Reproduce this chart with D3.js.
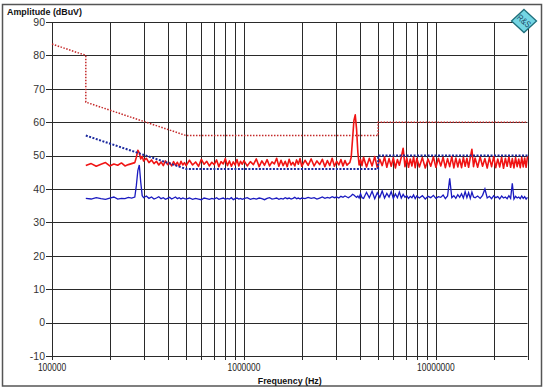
<!DOCTYPE html>
<html>
<head>
<meta charset="utf-8">
<script src="https://cdn.jsdelivr.net/npm/d3@7"></script>
<style>
  body { margin: 0; background: #fff; }
  svg { display: block; font-family: Arial, "Liberation Sans", sans-serif; }
</style>
</head>
<body>
<div id="chart"></div>
<script>
// Data (frequencies in MHz, amplitudes in dBuV)
// ==============================
var yTicks = [-10, 0, 10, 20, 30, 40, 50, 60, 70, 80, 90];
var xTickLabels = [100000, 1000000, 10000000];

var limitQpFreq = [0.1, 0.15, 0.15, 0.5, 5, 5, 30];
var limitQpLevel = [83.4, 80, 66, 56, 56, 60, 60];

var limitAvgFreq = [0.15, 0.5, 5, 5, 30];
var limitAvgLevel = [56, 46, 46, 50, 50];

var traceFreq = [
  0.15, 0.16, 0.17, 0.18, 0.19, 0.20, 0.21, 0.22, 0.23, 0.24, 0.25, 0.26, 0.27,
  0.275, 0.28, 0.285, 0.29, 0.295, 0.30,
  0.31, 0.32, 0.33, 0.34, 0.35, 0.36, 0.37, 0.38, 0.39, 0.40, 0.41, 0.42, 0.43, 0.44, 0.45, 0.46, 0.47, 0.48, 0.49,
  0.50, 0.52, 0.54, 0.56, 0.58, 0.60, 0.62, 0.64, 0.66, 0.68, 0.70, 0.72, 0.74, 0.76, 0.78, 0.80, 0.82, 0.84, 0.86, 0.88, 0.90, 0.92, 0.94, 0.96, 0.98,
  1.00, 1.04, 1.08, 1.12, 1.16, 1.20, 1.24, 1.28, 1.32, 1.36, 1.40, 1.44, 1.48, 1.52, 1.56, 1.60, 1.64, 1.68, 1.72, 1.76, 1.80, 1.84, 1.88, 1.92, 1.96,
  2.00, 2.08, 2.16, 2.24, 2.32, 2.40, 2.48, 2.56, 2.64, 2.72, 2.80, 2.88, 2.96, 3.04, 3.12, 3.20, 3.28, 3.36, 3.44,
  3.50, 3.56, 3.62, 3.68, 3.74, 3.80, 3.86, 3.92, 3.98, 4.05, 4.12,
  4.20, 4.35, 4.50, 4.65, 4.80, 4.95, 5.10, 5.25, 5.40, 5.55, 5.70, 5.85, 6.00, 6.15, 6.30, 6.45, 6.60, 6.75, 6.90, 7.05, 7.20, 7.35, 7.50, 7.65, 7.80, 7.95,
  8.2, 8.5, 8.8, 9.1, 9.4, 9.7, 10.0, 10.3, 10.6, 10.9, 11.2, 11.5, 11.8, 12.1, 12.4, 12.7, 13.0, 13.3, 13.6, 13.9, 14.2, 14.5, 14.8, 15.1, 15.4, 15.7,
  16.0, 16.5, 17.0, 17.5, 18.0, 18.5, 19.0, 19.5, 20.0, 20.5, 21.0, 21.5, 22.0, 22.5, 23.0, 23.5, 24.0, 24.5, 25.0, 25.5, 26.0, 26.5, 27.0, 27.5, 28.0, 28.5, 29.0, 29.5, 30.0
];

var peakLevel = [
  47.0, 47.6, 46.8, 47.4, 47.9, 46.9, 47.5, 47.1, 47.8, 46.9, 47.3, 47.6, 47.9,
  49.5, 51.6, 50.8, 49.0, 49.8, 48.4,
  49.2, 47.9, 48.7, 47.6, 48.3, 47.2, 48.1, 47.0, 48.4, 47.3, 47.9, 46.9, 48.2, 47.1, 48.0, 46.8, 48.3, 47.2, 47.9,
  47.0, 48.6, 47.2, 48.1, 46.8, 48.9, 47.4, 48.3, 46.9, 48.0, 47.3, 48.7, 46.7, 48.2, 47.5, 49.1, 47.0, 48.4, 46.8, 48.1, 47.2, 48.8, 46.9, 48.3, 47.4,
  48.5, 46.9, 48.2, 47.3, 49.0, 46.7, 48.4, 47.1, 48.8, 46.9, 48.1, 47.5, 49.2, 46.8, 48.6, 47.0, 48.3, 46.7, 48.9, 47.2, 48.0, 46.9, 48.7, 47.4, 49.1,
  46.8, 48.6, 47.1, 49.0, 46.9, 48.4, 47.3, 48.9, 46.7, 48.5, 47.0, 49.2, 46.8, 48.3, 47.2, 48.8, 46.9, 48.5, 47.1,
  47.6, 47.9, 49.5, 55.0, 60.5, 62.2, 58.0, 51.0, 47.2, 48.8, 47.0,
  49.5, 46.6, 49.2, 46.9, 49.7, 46.4, 48.9, 47.0, 49.6, 46.5, 49.1, 46.8, 49.4, 46.3, 48.8, 47.1, 49.5, 52.2, 46.7, 49.3, 46.5, 49.0, 46.9, 49.6, 46.4, 49.2,
  46.6, 49.4, 46.3, 49.0, 46.8, 49.6, 46.5, 49.2, 46.9, 49.5, 46.4, 49.1, 46.7, 49.7, 46.3, 49.3, 46.6, 49.0, 46.4, 49.5, 46.8, 49.2, 46.5, 49.4, 51.9, 46.7,
  49.3, 46.5, 49.6, 46.8, 49.1, 46.3, 49.4, 46.7, 49.7, 46.4, 49.0, 46.6, 49.5, 46.2, 49.2, 46.8, 49.6, 46.5, 49.1, 46.3, 49.4, 46.7, 49.0, 46.4, 49.5, 46.6, 49.3, 46.5, 49.8
];

var avgLevel = [
  37.2, 37.0, 37.4, 37.1, 36.9, 37.3, 37.6, 37.0, 37.2, 37.1, 37.5, 37.3, 37.6,
  41.0, 45.5, 47.2, 42.0, 38.0, 37.4,
  37.9, 37.2, 37.6, 37.0, 37.3, 37.7, 37.1, 37.4, 36.9, 37.2, 37.5, 37.0, 37.3, 37.6, 37.1, 37.4, 37.0, 37.3, 37.1,
  37.0, 37.3, 36.9, 37.2, 37.0, 36.8, 37.3, 37.1, 36.9, 37.2, 37.0, 37.4, 36.9, 37.1, 37.3, 36.9, 37.2, 37.0, 37.4, 36.8, 37.1, 37.3, 37.0, 37.2, 36.9,
  37.1, 37.4, 36.9, 37.2, 37.0, 37.3, 37.1, 36.8, 37.2, 37.4, 37.0, 37.1, 37.3, 36.9, 37.2, 37.0, 37.4, 37.1, 37.3, 37.0, 37.2, 37.5, 37.1, 37.3, 37.0,
  37.3, 37.1, 37.5, 37.2, 37.4, 37.0, 37.3, 37.6, 37.2, 37.5, 37.3, 37.7, 37.4, 37.6, 37.3, 37.8, 37.5, 37.9, 37.6,
  37.4, 37.7, 38.0, 38.4, 38.2, 37.8, 37.5, 37.9, 37.3, 38.6, 37.4,
  37.2, 39.0, 37.4, 39.3, 37.1, 38.9, 37.5, 39.4, 37.3, 38.7, 37.6, 39.2, 37.2, 38.5, 37.4, 39.1, 37.3, 38.4, 37.5, 38.0, 37.2, 37.8, 37.4, 38.2, 37.1, 37.9,
  37.3, 38.0, 37.0, 37.8, 37.4, 38.1, 37.2, 37.7, 37.5, 38.2, 37.1, 37.9, 43.2, 37.4, 38.0, 37.2, 38.3, 37.5, 38.6, 37.3, 39.2, 37.4, 38.9, 37.2, 39.1, 37.6,
  37.4, 37.9, 37.2, 38.1, 40.0, 37.3, 37.8, 37.1, 38.0, 37.4, 37.7, 37.0, 37.9, 37.3, 37.6, 37.1, 38.0, 37.2, 41.7, 37.0, 37.8, 37.3, 37.6, 37.1, 37.9, 37.2, 37.7, 37.0, 37.5
];

// Layout
// ==============================
var svgWidth = 545;
var svgHeight = 389;

var plot = { left: 52, right: 527.5, top: 22, bottom: 356 };

var svg = d3.select("#chart")
  .append("svg")
  .attr("width", svgWidth)
  .attr("height", svgHeight);

svg.append("rect")
  .attr("width", svgWidth)
  .attr("height", svgHeight)
  .attr("fill", "#fff");

// outer frame
svg.append("rect")
  .attr("x", 2.5)
  .attr("y", 4.5)
  .attr("width", 539)
  .attr("height", 381.5)
  .attr("fill", "none")
  .attr("stroke", "#555")
  .attr("stroke-width", 1.5);

// Scales
// ==============================
var xScale = d3.scaleLog()
  .domain([1e5, 3e7])
  .range([plot.left, plot.right]);

var yScale = d3.scaleLinear()
  .domain([-10, 90])
  .range([plot.bottom, plot.top]);

// Grid (log decades with 1..9 sub lines)
// ==============================
var gridGroup = svg.append("g");

var xGrid = xScale.ticks().filter(function (d) { return d <= 3e7; });

gridGroup.selectAll("line.vgrid")
  .data(xGrid)
  .enter()
  .append("line")
  .attr("class", "vgrid")
  .attr("x1", function (d) { return Math.round(xScale(d)) + 0.5; })
  .attr("x2", function (d) { return Math.round(xScale(d)) + 0.5; })
  .attr("y1", plot.top)
  .attr("y2", plot.bottom + 4)
  .attr("stroke", "#2a2a2a")
  .attr("stroke-width", 1);

gridGroup.selectAll("line.hgrid")
  .data(yTicks)
  .enter()
  .append("line")
  .attr("class", "hgrid")
  .attr("x1", plot.left - 6)
  .attr("x2", plot.right)
  .attr("y1", function (d) { return Math.round(yScale(d)) + 0.5; })
  .attr("y2", function (d) { return Math.round(yScale(d)) + 0.5; })
  .attr("stroke", "#2a2a2a")
  .attr("stroke-width", 1);

// Axis labels
// ==============================
svg.append("g").selectAll("text")
  .data(yTicks)
  .enter()
  .append("text")
  .attr("x", plot.left - 7)
  .attr("y", function (d) { return yScale(d); })
  .attr("dy", "0.36em")
  .attr("text-anchor", "end")
  .attr("font-size", "10.5px")
  .attr("fill", "#333")
  .text(function (d) { return d; });

svg.append("g").selectAll("text")
  .data(xTickLabels)
  .enter()
  .append("text")
  .attr("x", function (d) { return xScale(d); })
  .attr("y", 370.5)
  .attr("text-anchor", "middle")
  .attr("font-size", "10px")
  .attr("fill", "#222")
  .attr("textLength", function (d) { return String(d).length * 4.7; })
  .attr("lengthAdjust", "spacingAndGlyphs")
  .text(function (d) { return d; });

svg.append("text")
  .attr("x", 7)
  .attr("y", 15)
  .attr("font-size", "9px")
  .attr("font-weight", "bold")
  .attr("fill", "#111")
  .attr("textLength", 75)
  .attr("lengthAdjust", "spacingAndGlyphs")
  .text("Amplitude (dBuV)");

svg.append("text")
  .attr("x", (plot.left + plot.right) / 2)
  .attr("y", 383.5)
  .attr("text-anchor", "middle")
  .attr("font-size", "9px")
  .attr("font-weight", "bold")
  .attr("fill", "#111")
  .attr("textLength", 64)
  .attr("lengthAdjust", "spacingAndGlyphs")
  .text("Frequency (Hz)");

// Traces
// ==============================
var traceData = traceFreq.map(function (f, i) {
  return { f: f * 1e6, peak: peakLevel[i], avg: avgLevel[i] };
});

var avgLine = d3.line()
  .defined(function (d) { return d.avg != null; })
  .x(function (d) { return xScale(d.f); })
  .y(function (d) { return yScale(d.avg); });

var peakLine = d3.line()
  .defined(function (d) { return d.peak != null; })
  .x(function (d) { return xScale(d.f); })
  .y(function (d) { return yScale(d.peak); });

svg.append("path")
  .datum(traceData)
  .attr("d", avgLine)
  .attr("fill", "none")
  .attr("stroke", "#1a1ac0")
  .attr("stroke-width", 1.3);

svg.append("path")
  .datum(traceData)
  .attr("d", peakLine)
  .attr("fill", "none")
  .attr("stroke", "#f01414")
  .attr("stroke-width", 1.6)
  .attr("stroke-linejoin", "round");

// Limit lines (dotted)
// ==============================
var limitLine = d3.line()
  .x(function (d) { return xScale(d[0] * 1e6); })
  .y(function (d) { return yScale(d[1]); });

svg.append("path")
  .datum(d3.zip(limitQpFreq, limitQpLevel))
  .attr("d", limitLine)
  .attr("fill", "none")
  .attr("stroke", "#c42a2a")
  .attr("stroke-width", 1.5)
  .attr("stroke-dasharray", "1.5,1.5");

svg.append("path")
  .datum(d3.zip(limitAvgFreq, limitAvgLevel))
  .attr("d", limitLine)
  .attr("fill", "none")
  .attr("stroke", "#1c2a9e")
  .attr("stroke-width", 2)
  .attr("stroke-dasharray", "2,1.5");

// R&S logo, top right
// ==============================
var logo = svg.append("g")
  .attr("transform", "translate(524,21)");

logo.append("path")
  .attr("d", "M0,-11.5 L12.5,0 L0,11.5 L-12.5,0 Z")
  .attr("fill", "#74d6e4")
  .attr("stroke", "#1f6f7c")
  .attr("stroke-width", 1.3);

logo.append("text")
  .attr("x", 0)
  .attr("y", 0)
  .attr("dy", "0.35em")
  .attr("transform", "rotate(40)")
  .attr("font-size", "9px")
  .attr("fill", "#1d4a66")
  .attr("text-anchor", "middle")
  .attr("textLength", 15)
  .attr("lengthAdjust", "spacingAndGlyphs")
  .text("R&S");
</script>
</body>
</html>
